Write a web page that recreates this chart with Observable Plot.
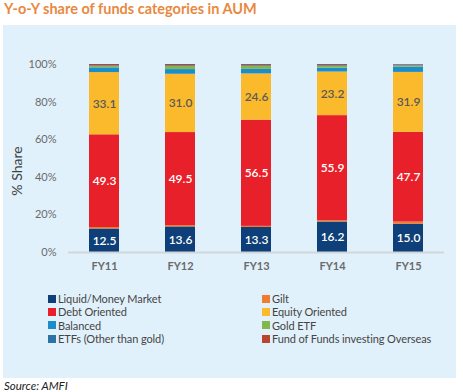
<!DOCTYPE html>
<html><head><meta charset="utf-8">
<script src="https://cdn.jsdelivr.net/npm/d3@7"></script>
<script src="https://cdn.jsdelivr.net/npm/@observablehq/plot@0.6"></script>
<style>
body{margin:0;background:#fff;font-family:Lato,"Open Sans",sans-serif;}
#wrap{position:relative;width:463px;height:392px;overflow:hidden;}
#title{position:absolute;left:4px;top:1px;font-size:14.5px;line-height:15px;font-weight:700;color:#E8893F;white-space:nowrap;}
#panel{position:absolute;left:3px;top:25px;width:453px;height:353px;background:#E1F1FB;}
#chart{position:absolute;left:0;top:0;}
#ylab{position:absolute;left:17px;top:171px;transform:translate(-50%,-50%) rotate(-90deg);font-size:14px;line-height:16px;color:#404040;white-space:nowrap;}
#legend{position:absolute;left:45px;top:267px;display:grid;grid-template-columns:214px 200px;font-size:11px;line-height:13px;color:#454545;letter-spacing:-0.1px;}
.item{display:flex;align-items:center;height:13.3px;white-space:nowrap;}
.sw{width:8px;height:8px;margin-right:2px;flex:none;}
#source{position:absolute;left:4px;top:379px;font-style:italic;font-size:11.5px;line-height:13px;color:#222;}
</style>
</head><body>
<div id="wrap">
  <div id="title">Y-o-Y share of funds categories in AUM</div>
  <div id="panel"><div id="chart"></div><div id="legend"></div></div>
  <div id="ylab">% Share</div>
  <div id="source">Source: AMFI</div>
</div>
<script>
const years = ["FY11","FY12","FY13","FY14","FY15"];
const categories = ["Liquid/Money Market","Gilt","Debt Oriented","Equity Oriented","Balanced","Gold ETF","ETFs (Other than gold)","Fund of Funds investing Overseas"];
const colors = ["#0E3F78","#ED7D31","#E8202A","#FBBA2C","#1C8DCB","#84B74B","#2A73A4","#B9452E"];
const liquid  = [12.5, 13.6, 13.3, 16.2, 15.0];
const gilt    = [0.8, 0.7, 0.6, 0.7, 1.2];
const debt    = [49.3, 49.5, 56.5, 55.9, 47.7];
const equity  = [33.1, 31.0, 24.6, 23.2, 31.9];
const balanced= [2.5, 2.5, 2.4, 2.1, 2.8];
const goldEtf = [0.8, 1.7, 1.7, 1.0, 0.6];
const etfs    = [0.3, 0.4, 0.4, 0.4, 0.5];
const fof     = [0.7, 0.6, 0.5, 0.5, 0.3];
const yTicks = [0, 20, 40, 60, 80, 100];
const series = [liquid, gilt, debt, equity, balanced, goldEtf, etfs, fof];
const labeled = {"Liquid/Money Market":"#ffffff","Debt Oriented":"#ffffff","Equity Oriented":"#5a5a5a"};

const data = categories.flatMap((c, i) => years.map((y, j) => ({year: y, cat: c, value: series[i][j]})));

const textMarks = Object.entries(labeled).map(([cat, col]) =>
  Plot.text(data, Plot.stackY({
    x: "year", y: "value", z: "cat", order: categories,
    text: d => d.cat === cat ? d.value.toFixed(1) : "",
    fill: col, fontSize: 12, fontWeight: 600
  }))
);

const chart = Plot.plot({
  width: 453, height: 262,
  marginTop: 39, marginBottom: 35, marginLeft: 65, marginRight: 12,
  style: {background: "transparent", fontFamily: "Lato, 'Open Sans', sans-serif", fontSize: "11px", color: "#595959"},
  x: {domain: years, paddingInner: 0.6, paddingOuter: 0.2545, axis: null},
  y: {domain: [0, 100], axis: null},
  color: {domain: categories, range: colors},
  marks: [
    Plot.barY(data, {x: "year", y: "value", z: "cat", fill: "cat", order: categories}),
    Plot.ruleY([0], {stroke: "#d2d6d9", strokeWidth: 2}),
    ...textMarks,
    Plot.axisX({tickSize: 0, tickPadding: 10, fontWeight: "bold", fill: "#6a6a6a", label: null}),
    Plot.axisY({ticks: yTicks, tickFormat: d => d + "%", tickSize: 0, tickPadding: 12, fill: "#6a6a6a", label: null})
  ]
});
document.getElementById("chart").appendChild(chart);

const legend = document.getElementById("legend");
categories.forEach((c, i) => {
  const it = document.createElement("div");
  it.className = "item";
  const sw = document.createElement("span");
  sw.className = "sw"; sw.style.background = colors[i];
  const tx = document.createElement("span");
  tx.textContent = c;
  it.appendChild(sw); it.appendChild(tx);
  legend.appendChild(it);
});
</script>
</body></html>
